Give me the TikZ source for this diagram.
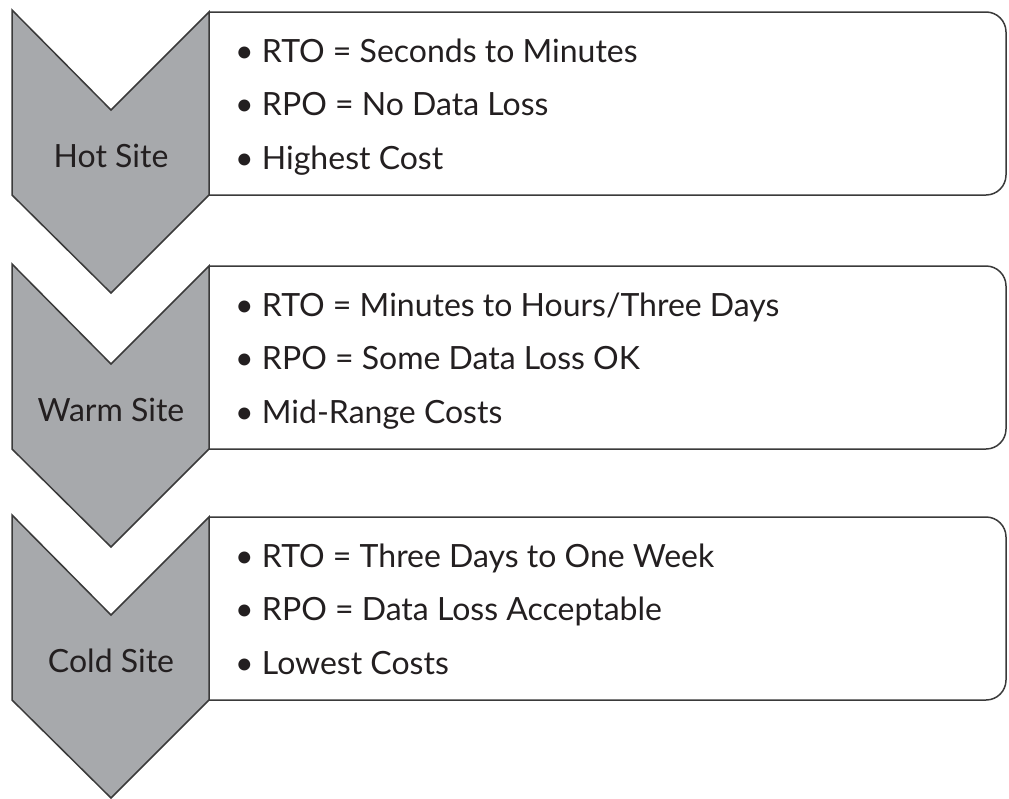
\documentclass[tikz,border=0pt]{standalone}
\usepackage{fontspec}
\setmainfont{Lato}
\definecolor{sitegray}{HTML}{A7A9AC}
\definecolor{edgegray}{HTML}{3A3A3A}
\definecolor{inkdark}{HTML}{231F20}
\tikzset{
  sitefill/.style={fill=sitegray,draw=edgegray,line width=1.5pt,line join=miter},
  infobox/.style={fill=white,draw=edgegray,line width=1.5pt,rounded corners=20pt},
  sitelabel/.style={anchor=base,inner sep=0pt,text=inkdark,font=\fontsize{32}{36}\selectfont},
  bulletline/.style={anchor=base west,inner sep=0pt,text=inkdark,font=\fontsize{32}{36}\selectfont}
}
\begin{document}
\begin{tikzpicture}[x=1pt,y=-1pt]
\useasboundingbox (0,0) rectangle (1009,798);
\foreach \t/\n/\lbl/\la/\lb/\lc in {
  10/1/Hot Site/RTO = Seconds to Minutes/RPO = No Data Loss/Highest Cost,
  264/2/Warm Site/{RTO = Minutes to Hours/Three Days}/RPO = Some Data Loss OK/Mid-Range Costs,
  515/3/Cold Site/RTO = Three Days to One Week/RPO = Data Loss Acceptable/Lowest Costs}{
  % box on the right
  \fill[white] (209,\t+2) rectangle (1006,\t+185);
  \draw[infobox,fill=none] (209,\t+2) -- (1006,\t+2) -- (1006,\t+185) -- (209,\t+185);
  % chevron
  \draw[sitefill] (12,\t) -- (111,\t+100) -- (209,\t+2) -- (209,\t+185)
    -- (111,\t+283) -- (12,\t+185) -- cycle;
  \node[sitelabel] (site\n) at (111,\t+157) {\lbl};
  \node[bulletline] (rto\n) at (235,\t+52) {• \la};
  \node[bulletline] (rpo\n) at (235,\t+105) {• \lb};
  \node[bulletline] (cost\n) at (235,\t+159) {• \lc};
}
\end{tikzpicture}
\end{document}
